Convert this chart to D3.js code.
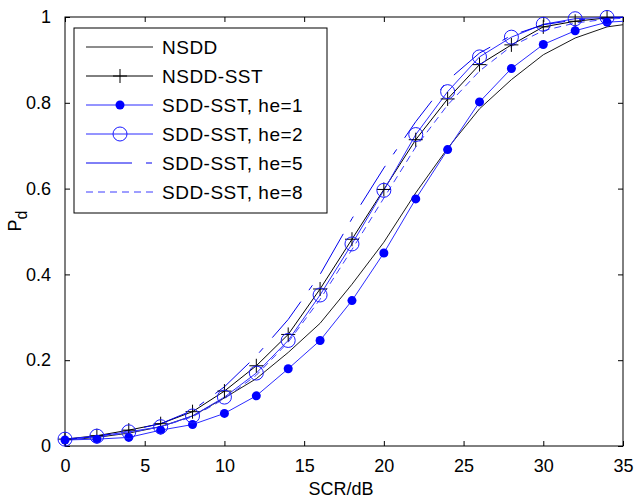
<!DOCTYPE html>
<html>
<head>
<meta charset="utf-8">
<script src="https://cdn.jsdelivr.net/npm/d3@7"></script>
<style>
  body { margin: 0; background: #fff; }
  svg { display: block; font-family: Arial, "Liberation Sans", sans-serif; }
</style>
</head>
<body>
<div id="chart"></div>
<script>
// SCR values (dB); the last point (35) only carries the line to the edge
const scr = [0, 2, 4, 6, 8, 10, 12, 14, 16, 18, 20, 22, 24, 26, 28, 30, 32, 34, 35];

const nsdd    = [0.014, 0.020, 0.030, 0.045, 0.070, 0.112, 0.157, 0.218, 0.286, 0.377, 0.475, 0.590, 0.694, 0.786, 0.854, 0.912, 0.951, 0.977, 0.982];
const nsddSst = [0.016, 0.024, 0.037, 0.052, 0.080, 0.128, 0.187, 0.260, 0.366, 0.482, 0.598, 0.714, 0.809, 0.889, 0.935, 0.977, 0.990, 0.998, 0.999];
const he1     = [0.014, 0.016, 0.020, 0.037, 0.050, 0.076, 0.117, 0.180, 0.246, 0.339, 0.450, 0.576, 0.691, 0.802, 0.880, 0.936, 0.968, 0.988, 0.990];
const he2     = [0.016, 0.023, 0.033, 0.045, 0.070, 0.114, 0.170, 0.246, 0.352, 0.471, 0.596, 0.726, 0.826, 0.907, 0.953, 0.983, 0.996, 0.999, 1.000];
const he5     = [0.015, 0.022, 0.036, 0.052, 0.083, 0.138, 0.210, 0.295, 0.400, 0.530, 0.648, 0.756, 0.852, 0.916, 0.957, 0.982, 0.993, 0.998, 0.999];
const he8     = [0.015, 0.021, 0.031, 0.045, 0.068, 0.110, 0.165, 0.242, 0.342, 0.458, 0.578, 0.697, 0.795, 0.874, 0.932, 0.968, 0.986, 0.995, 0.997];

const xTicks = [0, 5, 10, 15, 20, 25, 30, 35];
const yTicks = [0, 0.2, 0.4, 0.6, 0.8, 1];

const seriesNames = ["NSDD", "NSDD-SST", "SDD-SST, he=1", "SDD-SST, he=2", "SDD-SST, he=5", "SDD-SST, he=8"];

const series = [
  {name: seriesNames[0], values: nsdd,    color: "#1a1a1a", dash: null,          marker: null},
  {name: seriesNames[1], values: nsddSst, color: "#000",    dash: null,          marker: "plus"},
  {name: seriesNames[2], values: he1,     color: "#2b2bff", dash: null,          marker: "dot"},
  {name: seriesNames[3], values: he2,     color: "#2b2bff", dash: null,          marker: "circle"},
  {name: seriesNames[4], values: he5,     color: "#0000ee", dash: "46,14,6,14",  marker: null},
  {name: seriesNames[5], values: he8,     color: "#3c3cff", dash: "7,5",         marker: null}
];

const margin = {top: 17, right: 13, bottom: 53, left: 65},
    width = 636 - margin.left - margin.right,
    height = 499 - margin.top - margin.bottom;

const svg = d3.select("#chart")
  .append("svg")
    .attr("width", 636)
    .attr("height", 499)
  .append("g")
    .attr("transform", `translate(${margin.left}, ${margin.top})`);

const x = d3.scaleLinear().domain([0, 35]).range([0, width]);
const y = d3.scaleLinear().domain([0, 1]).range([height, 0]);

// axes, ticks pointing inward on all four sides (box on)
const fmt = d => d3.format("~g")(d);
const axisStyle = g => {
  g.select(".domain").remove();
  g.selectAll("line").attr("stroke", "#000");
  g.selectAll("text").attr("fill", "#000").style("font-size", "18px");
};

svg.append("g")
  .attr("transform", `translate(0,${height})`)
  .call(d3.axisBottom(x).tickValues(xTicks).tickFormat(fmt).tickSizeInner(-5).tickPadding(13))
  .call(axisStyle);
svg.append("g")
  .call(d3.axisTop(x).tickValues(xTicks).tickFormat("").tickSizeInner(-5))
  .call(axisStyle);
svg.append("g")
  .call(d3.axisLeft(y).tickValues(yTicks).tickFormat(fmt).tickSizeInner(-5).tickPadding(14))
  .call(axisStyle);
svg.append("g")
  .attr("transform", `translate(${width},0)`)
  .call(d3.axisRight(y).tickValues(yTicks).tickFormat("").tickSizeInner(-5))
  .call(axisStyle);

svg.append("rect")
  .attr("x", 0).attr("y", 0)
  .attr("width", width).attr("height", height)
  .attr("fill", "none")
  .attr("stroke", "#000");

// lines
const line = d3.line()
  .x((d, i) => x(scr[i]))
  .y(d => y(d));

svg.append("g")
  .selectAll("path")
  .data(series)
  .join("path")
    .attr("fill", "none")
    .attr("stroke", d => d.color)
    .attr("stroke-width", 1)
    .attr("stroke-dasharray", d => d.dash)
    .attr("d", d => line(d.values));

function drawMarker(g, type, color) {
  if (type === "plus") {
    g.append("path").attr("d", "M-7,0H7M0,-7V7")
      .attr("stroke", color).attr("stroke-width", 1).attr("fill", "none");
  } else if (type === "dot") {
    g.append("circle").attr("r", 4.5).attr("fill", "#0000ff");
  } else if (type === "circle") {
    g.append("circle").attr("r", 7).attr("fill", "none")
      .attr("stroke", "#1a1aff").attr("stroke-width", 1);
  }
}

// markers on the measured points only (x <= 34)
series.filter(s => s.marker).forEach(s => {
  svg.append("g")
    .selectAll("g")
    .data(s.values.filter((v, i) => scr[i] <= 34))
    .join("g")
      .attr("transform", (d, i) => `translate(${x(scr[i])},${y(d)})`)
      .each(function() { drawMarker(d3.select(this), s.marker, s.color); });
});

// axis labels
d3.select("svg").append("text")
  .attr("x", 341)
  .attr("y", 495)
  .attr("text-anchor", "middle")
  .style("font-size", "18px")
  .text("SCR/dB");

const ylab = d3.select("svg").append("text")
  .attr("transform", "translate(21,221) rotate(-90)")
  .attr("text-anchor", "middle")
  .style("font-size", "18px");
ylab.append("tspan").text("P");
ylab.append("tspan").attr("dy", 6).style("font-size", "16px").text("d");

// legend
const legend = svg.append("g")
  .attr("transform", `translate(${74 - margin.left},${28 - margin.top})`);

legend.append("rect")
  .attr("width", 253)
  .attr("height", 185)
  .attr("fill", "#fff")
  .attr("stroke", "#000");

const item = legend.selectAll(".item")
  .data(series)
  .join("g")
    .attr("class", "item")
    .attr("transform", (d, i) => `translate(0,${19 + i * 29})`);

item.append("line")
  .attr("x1", 12).attr("x2", 79)
  .attr("stroke", d => d.color)
  .attr("stroke-dasharray", d => d.dash);

item.each(function(d) {
  if (d.marker) {
    const g = d3.select(this).append("g").attr("transform", "translate(46,0)");
    drawMarker(g, d.marker, d.color);
  }
});

item.append("text")
  .attr("x", 88)
  .attr("dy", "0.36em")
  .style("font-size", "19px")
  .style("letter-spacing", "0.5px")
  .text(d => d.name);
</script>
</body>
</html>
